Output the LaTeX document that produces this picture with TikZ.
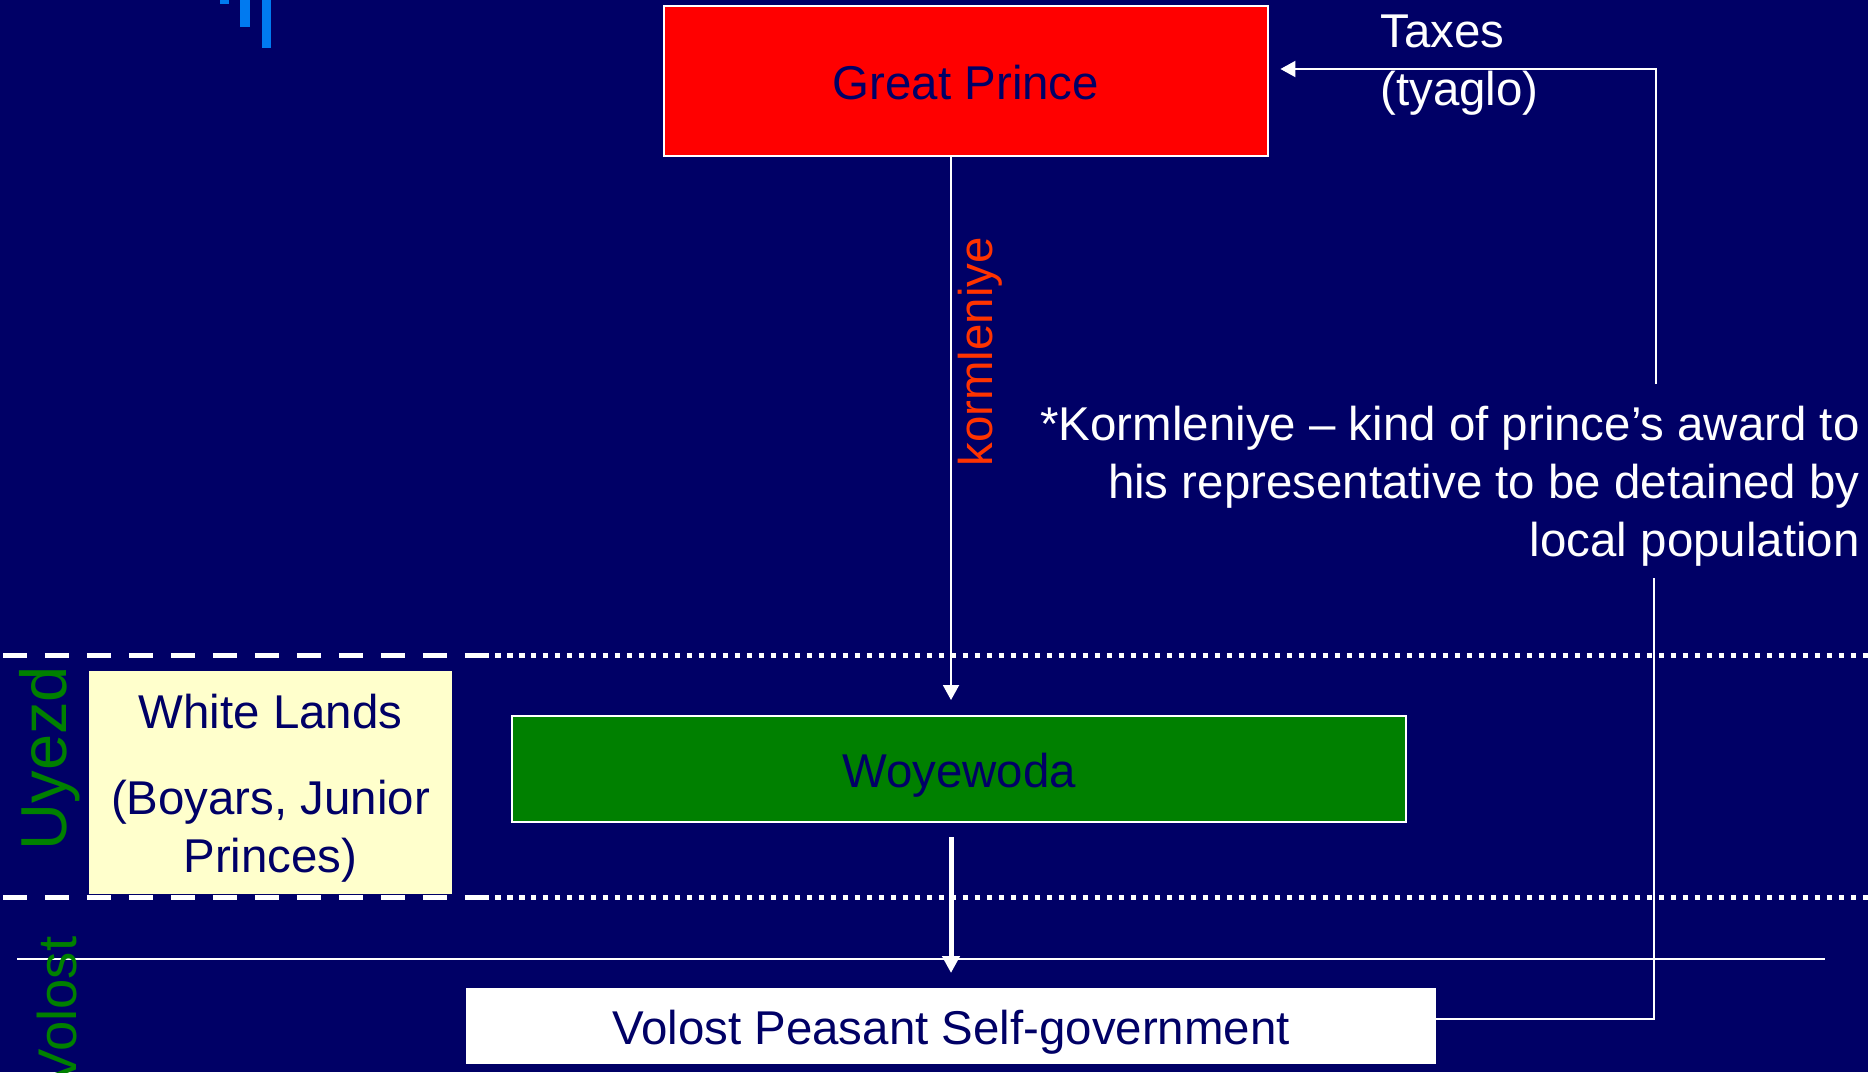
\documentclass[tikz,border=0pt]{standalone}
\usepackage{fontspec}
\setmainfont{Liberation Sans}
\usetikzlibrary{arrows.meta,positioning}

\definecolor{slidebg}{RGB}{0,0,102}
\definecolor{princered}{RGB}{255,0,0}
\definecolor{woygreen}{RGB}{0,128,0}
\definecolor{landyellow}{RGB}{255,255,204}
\definecolor{kormred}{RGB}{255,51,0}
\definecolor{barblue}{RGB}{0,122,240}

\begin{document}
\begin{tikzpicture}[x=0.02cm, y=-0.02cm,
		every node/.style={font=\fontsize{27}{33}\selectfont},
		office/.style={inner sep=0pt, outer sep=0pt, text=slidebg},
		onerow/.style={office, text height=27pt, text depth=6pt},
		wire/.style={white, line width=0.04cm},
		arrowthin/.style={-{Triangle[length=0.3cm, width=0.32cm]}},
		arrowthick/.style={-{Triangle[length=0.34cm, width=0.34cm]}},
		dashsep/.style={white, line width=0.1cm, dash pattern=on 0.48cm off 0.36cm},
		dotsep/.style={white, line width=0.1cm, dash pattern=on 0.11cm off 0.13cm},
		zone/.style={text=woygreen, rotate=90, anchor=base}]
		\fill [slidebg] (0,0) rectangle (1868,1072);
		\useasboundingbox (0,0) rectangle (1868,1072);
		\fill [barblue] (220,0) rectangle (229,4);
		\fill [barblue] (240,0) rectangle (250,27);
		\fill [barblue] (262,0) rectangle (271,48);

		\draw [dashsep] (3,655) -- (483,655);
		\draw [dotsep] (483,655) -- (1868,655);
		\draw [dashsep] (3,897) -- (483,897);
		\draw [dotsep] (483,897) -- (1868,897);
		\draw [wire] (17,959) -- (1825,959);

		\node [onerow, draw=white, line width=0.04cm, fill=princered, minimum width=12.1cm, minimum height=3cm] (gp) at (966,81) {Great Prince};
		\node [onerow, draw=white, line width=0.04cm, fill=woygreen, minimum width=17.88cm, minimum height=2.12cm] (woy) at (959,769) {Woyewoda};
		\node [onerow, fill=white, minimum width=19.4cm, minimum height=1.52cm] (vol) at (951,1026) {Volost Peasant Self-government};
		\node [office, fill=landyellow, align=center, minimum width=7.26cm, minimum height=4.46cm] (wl) at (270.5,782.5) {\rule{0pt}{26pt}White Lands\\[0.56cm](Boyars, Junior\\Princes)};

		\node [zone, font=\fontsize{37}{44}\selectfont] (uyezd) at (66,758) {Uyezd};
		\node [zone, font=\fontsize{31}{37}\selectfont] (volost) at (76,1011) {Volost};
		\node [rotate=90, anchor=base, text=kormred] (korm) at (992,352) {kormleniye};

		\node [align=left, anchor=north west, inner sep=0pt, text=white] (taxes) at (1380,15) {Taxes\\(tyaglo)};
		\node [align=right, anchor=north east, inner sep=0pt, text=white] (note) at (1860,406) {*Kormleniye – kind of prince’s award to\\his representative to be detained by\\local population};

		\coordinate (gapbot) at (1654,578);
		\coordinate (gaptop) at (1656,384);
		\draw [wire, arrowthin, shorten >=0.32cm] (gp.south -| vol.center) -- (woy.north -| vol.center);
		\draw [white, line width=0.1cm, arrowthick, shorten <=0.3cm, shorten >=0.3cm] (woy.south -| vol.center) -- (vol.north);
		\draw [wire] ([yshift=0.14cm]vol.east) -| (gapbot);
		\draw [wire, arrowthin] (gaptop) |- ([xshift=0.24cm, yshift=0.24cm]gp.east);
	\end{tikzpicture}
\end{document}
